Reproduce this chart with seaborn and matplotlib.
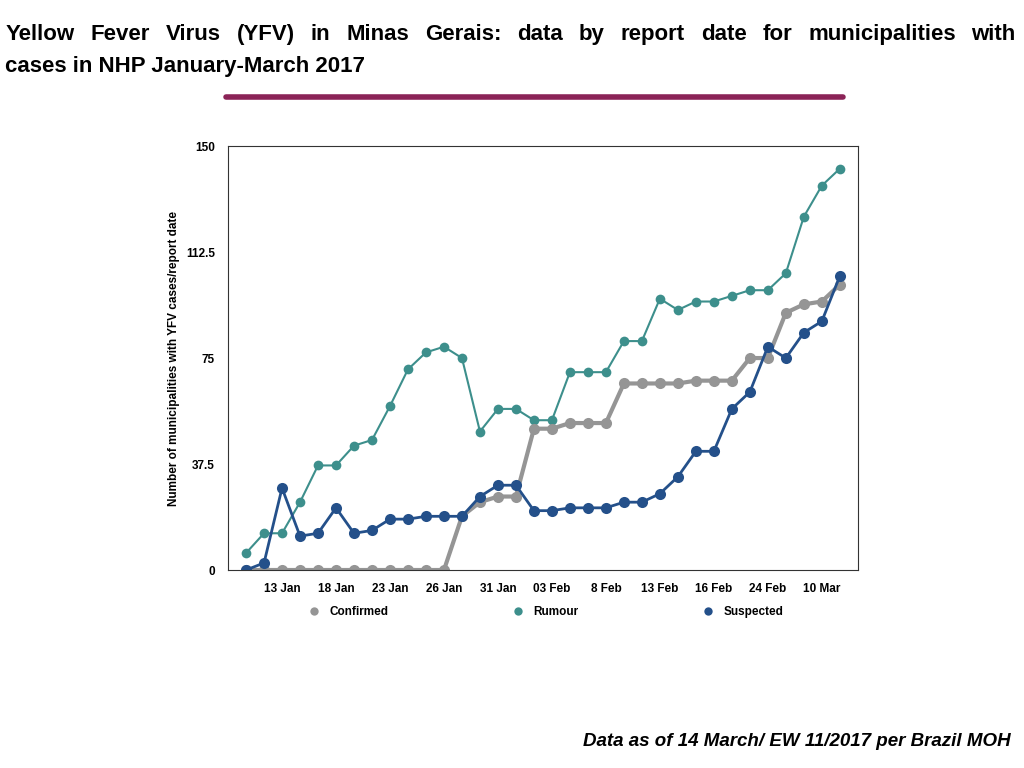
import pandas as pd
import matplotlib.pyplot as plt
import seaborn as sns
from matplotlib.lines import Line2D

# values, one per report date
confirmed = [0, 0, 0, 0, 0, 0, 0, 0, 0, 0, 0, 0, 19, 24, 26, 26, 50, 50, 52, 52, 52,
             66, 66, 66, 66, 67, 67, 67, 75, 75, 91, 94, 95, 101]
rumour = [6, 13, 13, 24, 37, 37, 44, 46, 58, 71, 77, 79, 75, 49, 57, 57, 53, 53, 70, 70, 70,
          81, 81, 96, 92, 95, 95, 97, 99, 99, 105, 125, 136, 142]
suspected = [0, 2.5, 29, 12, 13, 22, 13, 14, 18, 18, 19, 19, 19, 26, 30, 30, 21, 21, 22, 22, 22,
             24, 24, 27, 33, 42, 42, 57, 63, 79, 75, 84, 88, 104]
tick_labels = ["13 Jan", "18 Jan", "23 Jan", "26 Jan", "31 Jan", "03 Feb", "8 Feb",
               "13 Feb", "16 Feb", "24 Feb", "10 Mar"]
y_ticks = [0, 37.5, 75, 112.5, 150]
title_line1 = "Yellow Fever Virus (YFV) in Minas Gerais: data by report date for municipalities with"

sns.set_theme(style="white")
plt.rcParams['font.family'] = ['Liberation Sans', 'DejaVu Sans']
plt.rcParams['text.color'] = 'black'

n = len(confirmed)
df = pd.DataFrame({
    "idx": list(range(n)) * 3,
    "value": confirmed + rumour + suspected,
    "series": ["Confirmed"] * n + ["Rumour"] * n + ["Suspected"] * n,
})
colors = {"Confirmed": "#959595", "Rumour": "#3D8F8C", "Suspected": "#24508A"}

fig = plt.figure(figsize=(10.24, 7.68), dpi=100)
ax = fig.add_axes([0.2227, 0.2578, 0.615, 0.552])

for name, lw, ms in [("Rumour", 1.5, 7), ("Confirmed", 3.0, 8), ("Suspected", 2.0, 8)]:
    sub = df[df.series == name]
    sns.lineplot(data=sub, x="idx", y="value", ax=ax, color=colors[name], linewidth=lw,
                 marker="o", markersize=ms, markeredgewidth=0, legend=False)

ax.set_xlim(-1, n)
ax.set_ylim(0, 150)
ax.set_xticks(range(2, n, 3))
ax.set_xticklabels(tick_labels, fontsize=8.5, fontweight="bold", color="black")
ax.set_yticks(y_ticks)
ax.set_yticklabels(["0", "37.5", "75", "112.5", "150"], fontsize=8.5, fontweight="bold", color="black")
ax.set_xlabel("")
ax.set_ylabel("Number of municipalities with YFV cases/report date", fontsize=8.5,
              fontweight="bold", color="black")
for s in ax.spines.values():
    s.set_color("#333333")
    s.set_linewidth(0.8)

handles = [Line2D([], [], linestyle="none", marker="o", markersize=6, markeredgewidth=0,
                  color=colors[k]) for k in ["Confirmed", "Rumour", "Suspected"]]
ax.legend(handles, ["Confirmed", "Rumour", "Suspected"], loc="upper center",
          bbox_to_anchor=(0.5, -0.06), ncol=3, frameon=False, columnspacing=10,
          handletextpad=0.3, prop={"weight": "bold", "size": 8.5})

# justified first title line: spread words across the width
words = title_line1.split()
t_objs = [fig.text(0, 0.955, w, fontsize=16, fontweight="bold", va="center") for w in words]
fig.canvas.draw()
r = fig.canvas.get_renderer()
widths = [t.get_window_extent(r).width / 1024 for t in t_objs]
left, right = 0.005, 0.992
gap = (right - left - sum(widths)) / (len(words) - 1)
x = left
for t, w in zip(t_objs, widths):
    t.set_x(x)
    x += w + gap
fig.text(0.005, 0.913, "cases in NHP January-March 2017", fontsize=16, fontweight="bold", va="center")
fig.add_artist(Line2D([0.221, 0.823], [0.874, 0.874], color="#8B2357", linewidth=4))
fig.text(0.987, 0.035, "Data as of 14 March/ EW 11/2017 per Brazil MOH", fontsize=13.5,
         fontweight="bold", style="italic", ha="right", va="center")

fig.savefig("out.png", dpi=100)
